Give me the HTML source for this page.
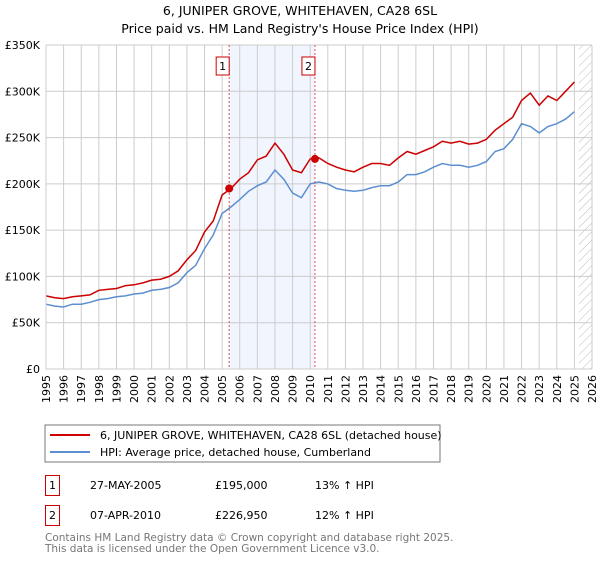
<!DOCTYPE html>
<html><head><meta charset="utf-8"><style>
body{margin:0;background:#fff;font-family:"DejaVu Sans","Liberation Sans",sans-serif;}
svg text{font-family:"DejaVu Sans","Liberation Sans",sans-serif;}
</style></head><body>
<svg id="c" width="600" height="560" xmlns="http://www.w3.org/2000/svg">
<defs><pattern id="hatch" width="6" height="6" patternUnits="userSpaceOnUse" patternTransform="rotate(45)"><line x1="0" y1="0" x2="0" y2="6" stroke="#bbb" stroke-width="1"/></pattern></defs>
<text x="300" y="15" text-anchor="middle" font-size="12.5" fill="#000">6, JUNIPER GROVE, WHITEHAVEN, CA28 6SL</text>
<text x="300" y="33" text-anchor="middle" font-size="12.5" fill="#000">Price paid vs. HM Land Registry's House Price Index (HPI)</text>
<g id="plot"></g>
<rect x="45" y="425" width="395" height="37" fill="#fff" stroke="#777"/>
<line x1="50" y1="435" x2="90" y2="435" stroke="#cc0000" stroke-width="2"/>
<text x="100" y="439" font-size="11">6, JUNIPER GROVE, WHITEHAVEN, CA28 6SL (detached house)</text>
<line x1="50" y1="452" x2="90" y2="452" stroke="#5b8fd0" stroke-width="2"/>
<text x="100" y="456" font-size="11">HPI: Average price, detached house, Cumberland</text>
<g>
<rect x="45.5" y="475.5" width="14" height="20" fill="none" stroke="#cc0000"/>
<text x="52.5" y="489" text-anchor="middle" font-size="11">1</text>
<text x="90" y="489" font-size="11">27-MAY-2005</text>
<text x="215" y="489" font-size="11">£195,000</text>
<text x="315" y="489" font-size="11">13% ↑ HPI</text></g>
<g>
<rect x="45.5" y="505.5" width="14" height="20" fill="none" stroke="#cc0000"/>
<text x="52.5" y="519" text-anchor="middle" font-size="11">2</text>
<text x="90" y="519" font-size="11">07-APR-2010</text>
<text x="215" y="519" font-size="11">£226,950</text>
<text x="315" y="519" font-size="11">12% ↑ HPI</text></g>
<text x="45" y="541" font-size="10.5" fill="#777">Contains HM Land Registry data © Crown copyright and database right 2025.</text>
<text x="45" y="552" font-size="10.5" fill="#777">This data is licensed under the Open Government Licence v3.0.</text>
</svg>
<script>
const years=[1995,1996,1997,1998,1999,2000,2001,2002,2003,2004,2005,2006,2007,2008,2009,2010,2011,2012,2013,2014,2015,2016,2017,2018,2019,2020,2021,2022,2023,2024,2025,2026];
const yTicks=[0,50,100,150,200,250,300,350];
const yTickLabels=["£0","£50K","£100K","£150K","£200K","£250K","£300K","£350K"];
const seriesStart=1995, seriesStep=0.5;
const priceSeries=[79,77,76,78,79,80,85,86,87,90,91,93,96,97,100,106,118,128,148,160,188,195,205,212,226,230,244,232,215,212,227,228,222,218,215,213,218,222,222,220,228,235,232,236,240,246,244,246,243,244,248,258,265,272,290,298,285,295,290,300,310];
const hpiSeries=[70,68,67,70,70,72,75,76,78,79,81,82,85,86,88,93,104,112,130,145,168,175,183,192,198,202,215,205,190,185,200,202,200,195,193,192,193,196,198,198,202,210,210,213,218,222,220,220,218,220,224,235,238,248,265,262,255,262,265,270,278];
const sales=[{t:2005.4,v:195,label:"1"},{t:2010.27,v:226.95,label:"2"}];
const X0=46,X1=592,Y0=369,Y1=45;
const xs=t=>X0+(t-1995)/(2026-1995)*(X1-X0);
const ys=v=>Y0-v/350*(Y0-Y1);
const NS="http://www.w3.org/2000/svg";
const g=document.getElementById('plot');
function el(tag,attrs,parent){const e=document.createElementNS(NS,tag);for(const k in attrs)e.setAttribute(k,attrs[k]);(parent||g).appendChild(e);return e;}
// shaded region
const sh=el('rect',{x:xs(sales[0].t),y:Y1,width:xs(sales[1].t)-xs(sales[0].t),height:Y0-Y1,fill:'#eef3fc',opacity:0.8});


// future hatch
const ht=el('rect',{x:xs(2025.25),y:Y1,width:X1-xs(2025.25),height:Y0-Y1,fill:'url(#hatch)'});


years.forEach(y=>{
 const l=el('line',{x1:xs(y),x2:xs(y),y1:Y1,y2:Y0,stroke:'#ccc','stroke-width':1});
 
 
 const tx=el('text',{x:0,y:0,'font-size':11,'text-anchor':'end',transform:`translate(${xs(y)+4},${Y0+6}) rotate(-90)`});
 tx.textContent=y;
 
 
});
yTicks.forEach((v,i)=>{
 const l=el('line',{x1:X0,x2:X1,y1:ys(v),y2:ys(v),stroke:'#ccc','stroke-width':1});
 
 
 const tx=el('text',{x:X0-6,y:ys(v)+4,'font-size':11,'text-anchor':'end'});
 tx.textContent=yTickLabels[i];
 
 
});
function path(arr){return arr.map((v,i)=>(i?'L':'M')+xs(seriesStart+i*seriesStep).toFixed(1)+','+ys(v).toFixed(1)).join('');}
const hp=el('path',{d:path(hpiSeries),fill:'none',stroke:'#5b8fd0','stroke-width':1.5});


const pp=el('path',{d:path(priceSeries),fill:'none',stroke:'#cc0000','stroke-width':1.5});


sales.forEach(s=>{
 const l=el('line',{x1:xs(s.t),x2:xs(s.t),y1:Y1,y2:Y0,stroke:'#e05050','stroke-width':1,'stroke-dasharray':'2,2'});
 
 
 const c=el('circle',{cx:xs(s.t),cy:ys(s.v),r:4,fill:'#cc0000'});
 
 
 const b=el('rect',{x:xs(s.t)-13,y:57,width:13,height:18,fill:'#fff',stroke:'#cc0000'});
 
 
 const t=el('text',{x:xs(s.t)-6.5,y:70,'font-size':11,'text-anchor':'middle'});
 t.textContent=s.label;
 
 
});
const ax=el('path',{d:`M${X0},${Y1}V${Y0}H${X1}`,fill:'none',stroke:'#ccc'});


</script>
</body></html>
